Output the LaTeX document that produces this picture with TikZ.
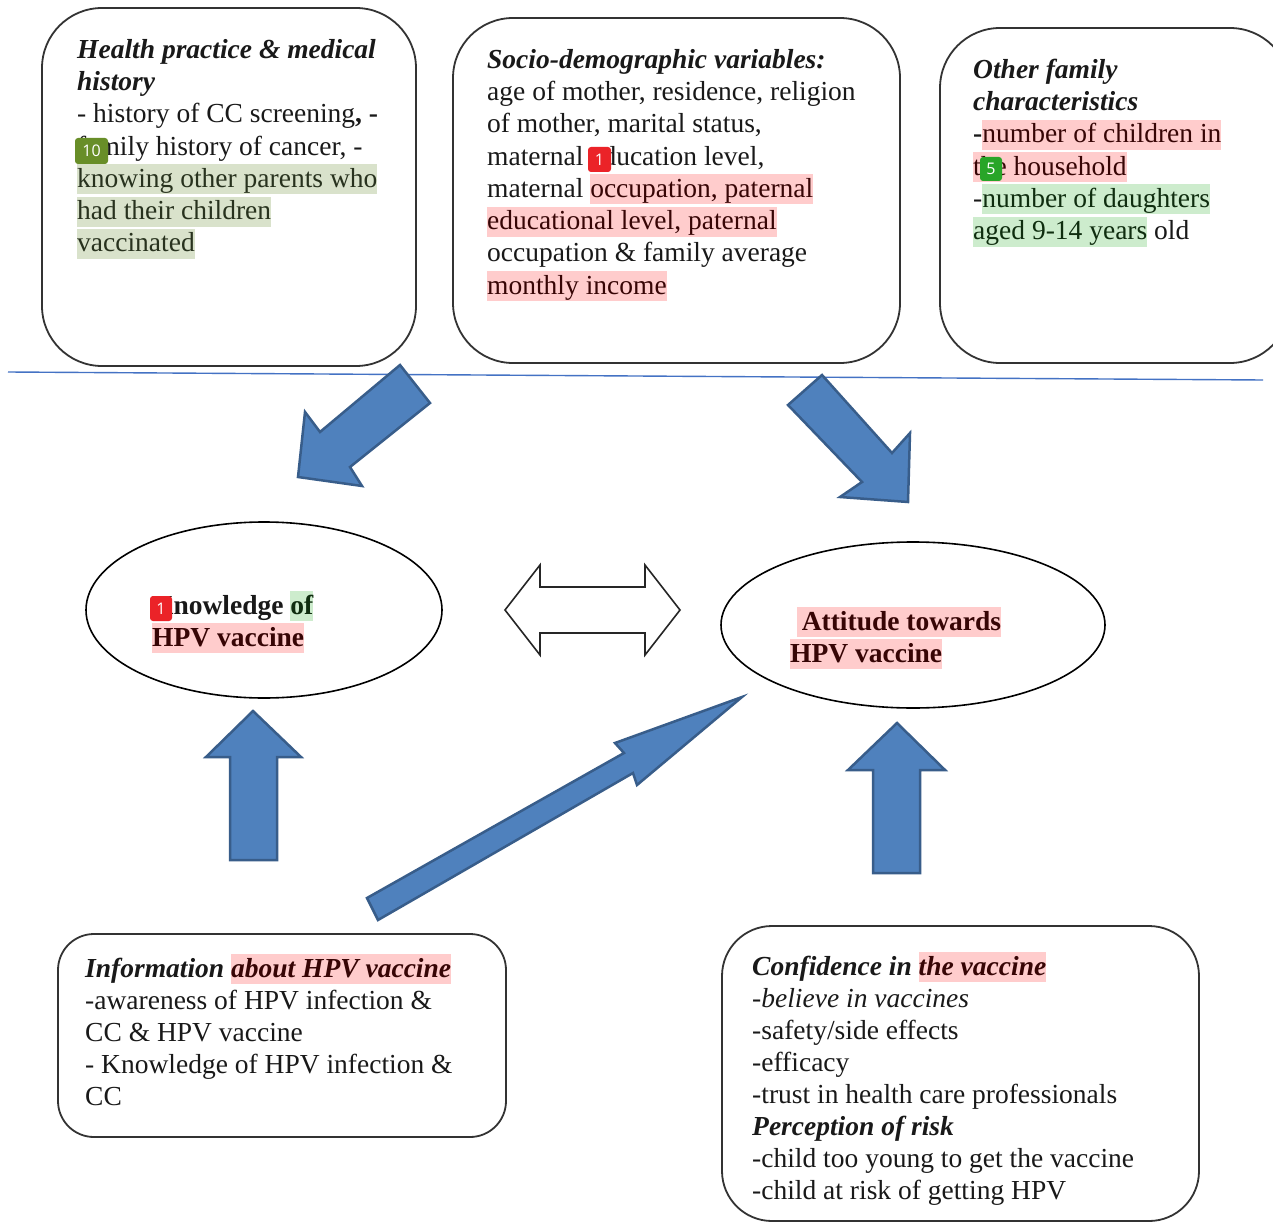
\documentclass[tikz,border=0pt]{standalone}
\usepackage{fontspec}
\setmainfont{Liberation Serif}
\newfontfamily\badgefont{Open Sans}
\usetikzlibrary{shapes.geometric}
\definecolor{hlpink}{RGB}{255,204,204}
\definecolor{hlgreen}{RGB}{205,236,205}
\definecolor{hlolive}{RGB}{217,226,203}
\definecolor{txtred}{RGB}{55,5,5}
\definecolor{txtgreen}{RGB}{15,45,15}
\definecolor{txtolive}{RGB}{40,50,30}
\definecolor{arrowfill}{RGB}{79,129,189}
\definecolor{arrowdraw}{RGB}{56,93,138}
\definecolor{linblue}{RGB}{68,114,196}
\definecolor{txt}{RGB}{25,25,25}
\definecolor{bolive}{RGB}{104,142,40}
\definecolor{bred}{RGB}{235,35,40}
\definecolor{bgreen}{RGB}{40,165,40}
\newcommand\mystrut{\rule[-7pt]{0pt}{30pt}}
\newcommand\hlp[1]{{\setlength\fboxsep{0pt}\colorbox{hlpink}{\mystrut\color{txtred}#1}}}
\newcommand\hlg[1]{{\setlength\fboxsep{0pt}\colorbox{hlgreen}{\mystrut\color{txtgreen}#1}}}
\newcommand\hlo[1]{{\setlength\fboxsep{0pt}\colorbox{hlolive}{\mystrut\color{txtolive}#1}}}
\newcommand\bi[1]{\textbf{\textit{#1}}}
\tikzset{
  box/.style={draw=black!80, line width=1.8pt},
  oval/.style={draw=black, line width=1.6pt, ellipse, inner sep=0pt},
  txtblock/.style={anchor=north west, inner sep=0pt, align=left, text=txt,
    font=\fontsize{27.5}{32.3}\selectfont},
  blockarrow/.style={fill=arrowfill, draw=arrowdraw, line width=2.5pt, line join=miter},
  badge/.style={rounded corners=3pt, inner sep=0pt, text=white,
    font=\badgefont\fontsize{16}{16}\selectfont}
}
\begin{document}
\begin{tikzpicture}[x=1pt,y=-1pt]
\useasboundingbox (0,0) rectangle (1273,1222);
\fill[white] (0,0) rectangle (1273,1222);

% boxes
\draw[box, rounded corners=60pt] (42,8) rectangle (416,366);
\draw[box, rounded corners=60pt] (453,18) rectangle (900,363);
\draw[box, rounded corners=60pt] (940,28) rectangle (1290,363);
\draw[box, rounded corners=36pt] (58,934) rectangle (506,1137);
\draw[box, rounded corners=50pt] (722,926) rectangle (1199,1221);

% separator line
\coordinate (l1) at (8,372);
\coordinate (l2) at (1263,380);
\draw[linblue, line width=1.4pt] (l1) -- (l2);

% ellipses
\node[oval, minimum width=356pt, minimum height=176pt] (know) at (264,610) {};
\node[oval, minimum width=384pt, minimum height=166pt] (att) at (913,625) {};

% block arrows
\draw[blockarrow] (400,365) -- (430,403) -- (350,467) -- (362,486) -- (298,477) -- (305,412) -- (320,432) -- cycle;
\draw[blockarrow] (822,375) -- (892,453) -- (910,433) -- (908,502) -- (840,497) -- (862,482) -- (788,405) -- cycle;
\draw[blockarrow] (367,898) -- (624,753) -- (615,743) -- (742,697) -- (637,785) -- (633,773) -- (378,920) -- cycle;
\draw[blockarrow] (230,860) -- (230,757) -- (206,757) -- (253,711) -- (301,757) -- (277,757) -- (277,860) -- cycle;
\draw[blockarrow] (873,873) -- (873,770) -- (848,770) -- (897,723) -- (945,770) -- (920,770) -- (920,873) -- cycle;
% double arrow
\draw[fill=white, draw=black!85, line width=1.6pt, line join=miter]
  (505,610) -- (540,565) -- (540,587) -- (645,587) -- (645,565) -- (680,610)
  -- (645,655) -- (645,633) -- (540,633) -- (540,655) -- cycle;

% texts
\node[txtblock] (t1) at (77,35) {\mystrut\bi{Health practice \& medical}\\
\mystrut\bi{history}\\
\mystrut- history of CC screening\textbf{, -}\\
\mystrut family history of cancer, -\\
\hlo{knowing other parents who}\\
\hlo{had their children}\\
\hlo{vaccinated}};

\node[txtblock] (t2) at (487,45) {\mystrut\bi{Socio-demographic variables:}\\
\mystrut age of mother, residence, religion\\
\mystrut of mother, marital status,\\
\mystrut maternal education level,\\
\mystrut maternal \hlp{occupation, paternal}\\
\hlp{educational level, paternal}\\
\mystrut occupation \& family average\\
\hlp{monthly income}};

\node[txtblock] (t3) at (973,55) {\mystrut\bi{Other family}\\
\mystrut\bi{characteristics}\\
\mystrut\textbf{-}\hlp{number of children in}\\
\hlp{the household}\\
\mystrut-\hlg{number of daughters}\\
\hlg{aged 9-14 years} old};

\node[txtblock, font=\fontsize{27.5}{32}\selectfont\bfseries] (t4) at (152,591) {\mystrut Knowledge \hlg{of}\\
\hlp{HPV vaccine}};

\node[txtblock, font=\fontsize{27.5}{32}\selectfont\bfseries] (t5a) at (797,607) {\hlp{\,Attitude towards}};
\node[txtblock, font=\fontsize{27.5}{32}\selectfont\bfseries] (t5b) at (790,639) {\hlp{HPV vaccine}};

\node[txtblock, font=\fontsize{27.5}{32}\selectfont] (t6) at (85,954) {\mystrut\bi{Information} \hlp{\bi{about HPV vaccine}}\\
\mystrut-awareness of HPV infection \&\\
\mystrut CC \& HPV vaccine\\
\mystrut- Knowledge of HPV infection \&\\
\mystrut CC};

\node[txtblock, font=\fontsize{27.5}{32}\selectfont] (t7) at (752,952) {\mystrut\bi{Confidence in} \hlp{\bi{the vaccine}}\\
\mystrut\textit{-believe in vaccines}\\
\mystrut-safety/side effects\\
\mystrut-efficacy\\
\mystrut-trust in health care professionals\\
\mystrut\bi{Perception of risk}\\
\mystrut-child too young to get the vaccine\\
\mystrut-child at risk of getting HPV};

% badges
\node[badge, fill=bolive, minimum width=33pt, minimum height=26pt] (bd1) at (91.5,151) {10};
\node[badge, fill=bred, minimum width=23pt, minimum height=25pt] (bd2) at (599.5,159.5) {1};
\node[badge, fill=bgreen, minimum width=22pt, minimum height=24pt] (bd3) at (991,169) {5};
\node[badge, fill=bred, minimum width=22pt, minimum height=25pt] (bd4) at (161,608.5) {1};
\end{tikzpicture}
\end{document}
